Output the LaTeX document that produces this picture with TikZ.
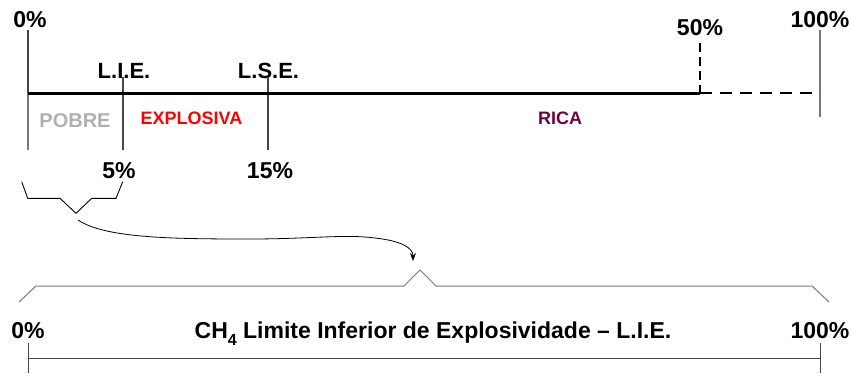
\documentclass[tikz,border=0pt]{standalone}
\usepackage{fontspec}
\setmainfont{Liberation Sans}
\usepackage{graphicx}
\usetikzlibrary{arrows.meta}
\definecolor{pobregray}{RGB}{176,176,176}
\definecolor{ricacolor}{RGB}{112,0,64}
\definecolor{tickdark}{RGB}{70,70,70}
\definecolor{tickgray}{RGB}{120,120,120}
\begin{document}
\begin{tikzpicture}[x=1pt,y=-1pt,
  lbl/.style={inner sep=0pt, anchor=base, font=\bfseries\fontsize{#1}{#1}\selectfont},
  lbl/.default=23,
  axisline/.style={line width=3pt, black},
  axisdash/.style={line width=2.6pt, black, dash pattern=on 12pt off 8pt},
  halfdash/.style={line width=2.4pt, black, dash pattern=on 9pt off 5pt},
  tickline/.style={line width=1.4pt, tickdark},
  ticklight/.style={line width=1.4pt, tickgray},
  bracketline/.style={line width=0.9pt, black},
  bigbracket/.style={line width=1pt, tickgray},
  scaleline/.style={line width=1pt, tickdark},
  linkarrow/.style={line width=0.8pt, black, -{Stealth[length=8pt,width=6pt]}}
]
\useasboundingbox (0,0) rectangle (853,373);

% ---- top labels ----
\node[lbl] (p0) at (30,27) {0\%};
\node[lbl] (p50) at (700,35) {50\%};
\node[lbl] (p100) at (820,27) {100\%};
\node[lbl=22] (lie) at (124,78) {L.I.E.};
\node[lbl=22] (lse) at (268.5,78) {L.S.E.};
\node[lbl=20, text=pobregray] (pobre) at (75,127) {POBRE};
\node[lbl=18, text=red] (explosiva) at (191.5,124) {EXPLOSIVA};
\node[lbl=18, text=ricacolor] (rica) at (560,124) {RICA};
\node[lbl] (p5) at (119,178) {5\%};
\node[lbl] (p15) at (270,178) {15\%};

% ---- axis coordinates ----
\coordinate (a0) at (28,93);
\coordinate (a50) at (700,93);
\coordinate (a100) at (820,93);
\coordinate (t0top) at (28,30);
\coordinate (t0bot) at (28,150);
\coordinate (t50top) at (700,43);
\coordinate (t100top) at (820,30);
\coordinate (t100bot) at (820,117);
\coordinate (lietop) at (123,77);
\coordinate (liebot) at (123,150);
\coordinate (lsetop) at (268,77);
\coordinate (lsebot) at (268,150);

\draw[tickline] (t0top) -- (a0);
\draw[ticklight] (a0) -- (t0bot);
\draw[tickline] (lietop) -- (liebot);
\draw[tickline] (lsetop) -- (lsebot);
\draw[ticklight] (t100top) -- (t100bot);
\draw[halfdash] (t50top) -- (a50);
\draw[axisline] (a0) -- (a50);
\draw[axisdash] (a50) -- (a100);

% ---- small bracket ----
\coordinate (sb1) at (21.7,181.7);
\coordinate (sb2) at (27.7,198.3);
\coordinate (sb3) at (60,198.3);
\coordinate (sbtip) at (76,213.3);
\coordinate (sb5) at (91.7,198.3);
\coordinate (sb6) at (116,198.3);
\coordinate (sb7) at (122.7,181.7);
\draw[bracketline] (sb1) -- (sb2) -- (sb3) -- (sbtip) -- (sb5) -- (sb6) -- (sb7);

% ---- big bracket ----
\coordinate (bb1) at (19,302);
\coordinate (bb2) at (36,286);
\coordinate (bb3) at (404,286);
\coordinate (bbtip) at (420,270);
\coordinate (bb5) at (436,286);
\coordinate (bb6) at (812,286);
\coordinate (bb7) at (829,302);
\draw[bigbracket] (bb1) -- (bb2) -- (bb3) -- (bbtip) -- (bb5) -- (bb6) -- (bb7);

% ---- linking curve ----
\coordinate (cstart) at (78,220);
\coordinate (cend) at (413,261);
\draw[linkarrow] (cstart) .. controls (105,238) and (170,239) .. (250,239)
  .. controls (310,239) and (345,234) .. (375,238)
  .. controls (402,241) and (413,248) .. (cend);

% ---- bottom scale ----
\node[lbl] (b0) at (28,338) {0\%};
\node[lbl] (b100) at (820,338) {100\%};
\node[lbl] (title) at (433,338) {CH\raisebox{-7pt}{\fontsize{16}{16}\selectfont 4} Limite Inferior de Explosividade – L.I.E.};
\coordinate (s0) at (28,358);
\coordinate (s100) at (820,358);
\coordinate (s0top) at (28,343);
\coordinate (s0bot) at (28,373);
\coordinate (s100top) at (820,343);
\coordinate (s100bot) at (820,373);
\draw[scaleline] (s0) -- (s100);
\draw[scaleline] (s0top) -- (s0bot);
\draw[scaleline] (s100top) -- (s100bot);
\end{tikzpicture}
\end{document}
